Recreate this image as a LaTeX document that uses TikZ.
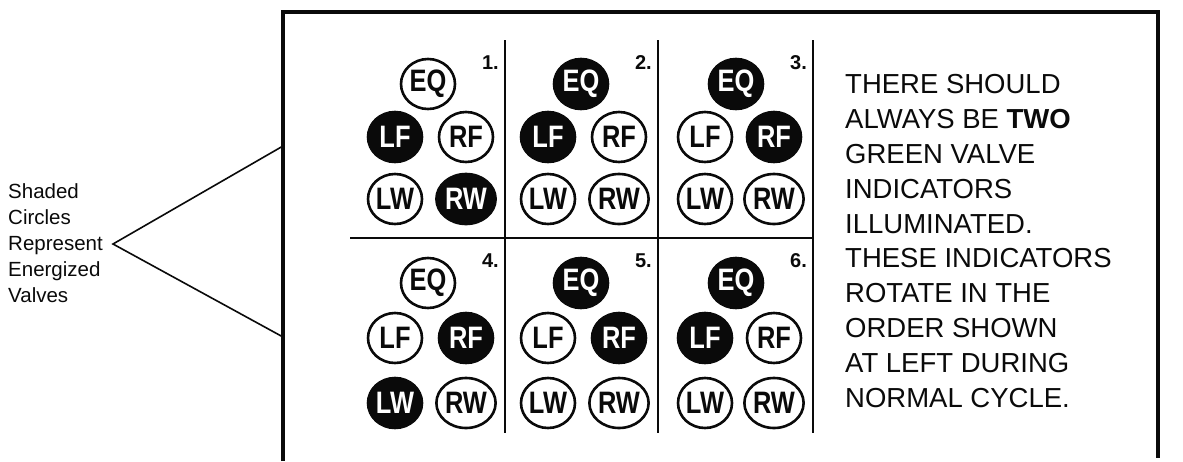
\documentclass[tikz,border=0pt]{standalone}
\usepackage{fontspec}
\setmainfont{Liberation Sans}
\newfontfamily\valvefont[FakeStretch=0.82]{Liberation Sans}
\definecolor{vInk}{HTML}{0A0A0A}
\definecolor{vPaper}{HTML}{FFFFFF}
\usetikzlibrary{positioning,shapes.geometric}
\newcommand{\valve}[5]{%
\ifnum#5=1
 \node[ellipse, draw=vInk, fill=vInk, line width=2.6pt, minimum width=54pt, minimum height=50pt, inner sep=0pt, font=\valvefont\bfseries\fontsize{31}{31}\selectfont, text=vPaper] (#3) at (#1,#2) {#4};%
\else
 \node[ellipse, draw=vInk, fill=vPaper, line width=2.6pt, minimum width=54pt, minimum height=50pt, inner sep=0pt, font=\valvefont\bfseries\fontsize{31}{31}\selectfont, text=vInk] (#3) at (#1,#2) {#4};%
\fi}
\newcommand{\panelno}[4]{%
 \node[anchor=east, inner sep=0pt, font=\bfseries\fontsize{20}{20}\selectfont, text=vInk] (#3) at (#1,#2) {#4};}

\begin{document}
\begin{tikzpicture}[x=1pt, y=-1pt]
\useasboundingbox (0,0) rectangle (1183,461);
% frame and grid
\draw[vInk, line width=3.2pt] (283,461) |- (1158,12) -- (1158,458);
\draw[vInk, line width=2.6pt] (505,40) -- (505,433);
\draw[vInk, line width=2.6pt] (658,40) -- (658,433);
\draw[vInk, line width=2.6pt] (813,40) -- (813,433);
\draw[vInk, line width=2.6pt] (350,238) -- (813,238);
% panel 1
\panelno{499}{63}{n1}{1.}
\valve{428}{84}{p1eq}{EQ}{0}
\valve{395}{137}{p1lf}{LF}{1}
\valve{466}{137}{p1rf}{RF}{0}
\valve{395}{199}{p1lw}{LW}{0}
\valve{466}{199}{p1rw}{RW}{1}
% panel 2
\panelno{652}{63}{n2}{2.}
\valve{581}{84}{p2eq}{EQ}{1}
\valve{548}{137}{p2lf}{LF}{1}
\valve{619}{137}{p2rf}{RF}{0}
\valve{548}{199}{p2lw}{LW}{0}
\valve{619}{199}{p2rw}{RW}{0}
% panel 3
\panelno{807}{63}{n3}{3.}
\valve{736}{84}{p3eq}{EQ}{1}
\valve{705}{137}{p3lf}{LF}{0}
\valve{774}{137}{p3rf}{RF}{1}
\valve{705}{199}{p3lw}{LW}{0}
\valve{774}{199}{p3rw}{RW}{0}
% panel 4
\panelno{499}{261}{n4}{4.}
\valve{428}{283}{p4eq}{EQ}{0}
\valve{395}{338}{p4lf}{LF}{0}
\valve{466}{338}{p4rf}{RF}{1}
\valve{395}{403}{p4lw}{LW}{1}
\valve{466}{403}{p4rw}{RW}{0}
% panel 5
\panelno{652}{261}{n5}{5.}
\valve{581}{283}{p5eq}{EQ}{1}
\valve{548}{338}{p5lf}{LF}{0}
\valve{619}{338}{p5rf}{RF}{1}
\valve{548}{403}{p5lw}{LW}{0}
\valve{619}{403}{p5rw}{RW}{0}
% panel 6
\panelno{807}{261}{n6}{6.}
\valve{736}{283}{p6eq}{EQ}{1}
\valve{705}{338}{p6lf}{LF}{1}
\valve{774}{338}{p6rf}{RF}{0}
\valve{705}{403}{p6lw}{LW}{0}
\valve{774}{403}{p6rw}{RW}{0}
% notes
\node[anchor=north west, inner sep=0pt, align=left, text=vInk, font=\fontsize{27.5}{34.8}\selectfont] (note) at (845,74.5) {THERE SHOULD\\ALWAYS BE \textbf{TWO}\\GREEN VALVE\\INDICATORS\\ILLUMINATED.\\THESE INDICATORS\\ROTATE IN THE\\ORDER SHOWN\\AT LEFT DURING\\NORMAL CYCLE.};
\node[anchor=north west, inner sep=0pt, align=left, text=vInk, font=\fontsize{20.5}{26}\selectfont] (legend) at (8,183) {Shaded\\Circles\\Represent\\Energized\\Valves};
\coordinate (apex) at (113,244);
\coordinate (hitTop) at (283,146);
\coordinate (hitBot) at (283,337);
\draw[vInk, line width=1.6pt] (hitTop) -- (apex) -- (hitBot);
\end{tikzpicture}
\end{document}
